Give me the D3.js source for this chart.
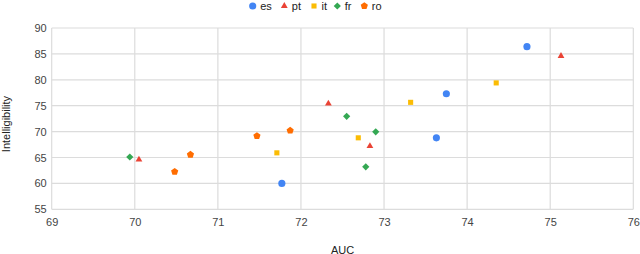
<!DOCTYPE html>
<html><head><meta charset="utf-8">
<script src="https://cdn.jsdelivr.net/npm/d3@7"></script>
<style>
html,body{margin:0;padding:0;background:#fff;}
svg{display:block;font-family:"Liberation Sans",Arial,sans-serif;}
</style></head>
<body><svg id="chart" width="640" height="254"></svg>
<script>
const seriesNames = ["es", "pt", "it", "fr", "ro"];
const esPoints = [[74.72, 86.4], [73.75, 77.3], [73.63, 68.8], [71.77, 60.0]];
const ptPoints = [[75.13, 84.6], [72.33, 75.4], [72.83, 67.2], [70.05, 64.6]];
const itPoints = [[74.35, 79.4], [73.32, 75.65], [72.69, 68.8], [71.71, 65.9]];
const frPoints = [[72.55, 72.95], [72.90, 69.95], [72.78, 63.2], [69.94, 65.1]];
const roPoints = [[71.87, 70.2], [71.47, 69.15], [70.67, 65.55], [70.48, 62.25]];
const xTicks = [69, 70, 71, 72, 73, 74, 75, 76];
const yTicks = [55, 60, 65, 70, 75, 80, 85, 90];
const xTitle = "AUC";
const yTitle = "Intelligibility";

(function () {
const colors = ["#4285F4", "#EA4335", "#FBBC04", "#34A853", "#FF6D01"];
const pentagon = {
  draw(ctx, size) {
    const r = Math.sqrt(size / 2.378);
    for (let i = 0; i < 5; i++) {
      const a = -Math.PI / 2 + i * 2 * Math.PI / 5;
      const px = r * Math.cos(a), py = r * Math.sin(a);
      if (i === 0) ctx.moveTo(px, py); else ctx.lineTo(px, py);
    }
    ctx.closePath();
  }
};
const diamond = {
  draw(ctx, size) {
    const r = Math.sqrt(size / 2);
    ctx.moveTo(0, -r); ctx.lineTo(r, 0); ctx.lineTo(0, r); ctx.lineTo(-r, 0);
    ctx.closePath();
  }
};
const shapes = [d3.symbolCircle, d3.symbolTriangle, d3.symbolSquare, diamond, pentagon];
const sizes = [40, 20, 26, 26, 34];
const allSeries = [esPoints, ptPoints, itPoints, frPoints, roPoints];

const svg = d3.select("#chart");
const mLeft = 51.7, mRight = 633.3, mTop = 28, mBottom = 209.3;
const x = d3.scaleLinear().domain([69, 76]).range([mLeft, mRight]);
const y = d3.scaleLinear().domain([55, 90]).range([mBottom, mTop]);
const font = '"Liberation Sans",Arial,sans-serif';

const grid = svg.append("g");
grid.selectAll("line.v").data(xTicks).join("line").attr("class", "v")
  .attr("x1", d => x(d)).attr("x2", d => x(d)).attr("y1", mTop).attr("y2", mBottom)
  .attr("stroke", "#dcdcdc").attr("stroke-width", 1.2);
grid.selectAll("line.h").data(yTicks).join("line").attr("class", "h")
  .attr("x1", mLeft).attr("x2", mRight).attr("y1", d => y(d)).attr("y2", d => y(d))
  .attr("stroke", "#dcdcdc").attr("stroke-width", 1.2);

const xAxis = svg.append("g").attr("transform", `translate(0,${mBottom})`)
  .call(d3.axisBottom(x).tickValues(xTicks).tickSize(0).tickPadding(9).tickFormat(d3.format("d")));
const yAxis = svg.append("g").attr("transform", `translate(${mLeft},0)`)
  .call(d3.axisLeft(y).tickValues(yTicks).tickSize(0).tickPadding(5).tickFormat(d3.format("d")));
[xAxis, yAxis].forEach(a => {
  a.select(".domain").remove();
  a.selectAll("text").attr("fill", "#444").style("font-size", "11px").style("font-family", font);
});

svg.append("text").attr("x", (mLeft + mRight) / 2).attr("y", 253.5).attr("text-anchor", "middle")
  .attr("fill", "#222").style("font-size", "11px").text(xTitle);
svg.append("text").attr("transform", `translate(10,124) rotate(-90)`)
  .attr("text-anchor", "middle").attr("fill", "#222").style("font-size", "11px").text(yTitle);

allSeries.forEach((pts, i) => {
  svg.append("g").selectAll("path").data(pts).join("path")
    .attr("transform", d => `translate(${x(d[0])},${y(d[1])})`)
    .attr("d", d3.symbol().type(shapes[i]).size(sizes[i]))
    .attr("fill", colors[i]);
});

const legendX = [252.7, 284.3, 314, 337.3, 364.3];
const lg = svg.append("g");
seriesNames.forEach((name, i) => {
  const g = lg.append("g").attr("transform", `translate(${legendX[i]},6)`);
  g.append("path").attr("d", d3.symbol().type(shapes[i]).size(sizes[i])).attr("fill", colors[i]);
  g.append("text").attr("x", 7.5).attr("y", 4).attr("fill", "#222")
    .style("font-size", "11px").text(name);
});
})();
</script></body></html>
